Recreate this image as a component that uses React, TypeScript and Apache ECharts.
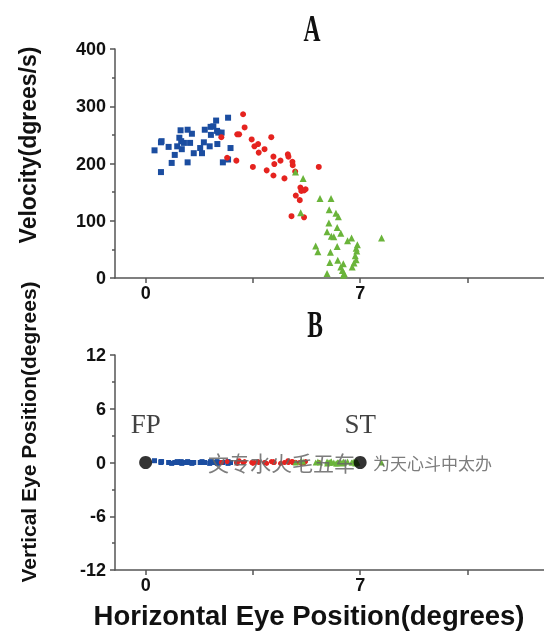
import React, { useEffect, useRef } from "react";
import * as echarts from "echarts";

// Panel A: horizontal eye position (deg) vs velocity (deg/s)
const blueX = [0.29, 0.5, 0.5, 0.52, 0.75, 0.85, 0.95, 1.03, 1.1, 1.14, 1.16, 1.18, 1.25, 1.37, 1.37, 1.45, 1.51, 1.57, 1.78, 1.84, 1.9, 1.93, 2.09, 2.13, 2.12, 2.21, 2.3, 2.33, 2.37, 2.34, 2.48, 2.52, 2.69, 2.77, 2.69];
const blueVel = [223, 185, 237, 239, 229, 201, 215, 230, 245, 258, 239, 225, 236, 259, 202, 236, 252, 218, 227, 218, 237, 259, 230, 250, 264, 265, 275, 257, 254, 234, 254, 202, 280, 227, 207];

const redX = [2.47, 2.66, 2.96, 2.99, 3.05, 3.18, 3.23, 3.46, 3.5, 3.55, 3.67, 3.69, 3.88, 3.95, 4.1, 4.17, 4.2, 4.17, 4.4, 4.53, 4.64, 4.66, 4.79, 4.8, 5.05, 5.08, 5.17, 5.22, 4.9, 5.03, 4.76, 5.17, 5.65, 4.88];
const redVel = [246, 210, 205, 251, 251, 286, 263, 242, 194, 230, 234, 219, 225, 188, 246, 212, 199, 179, 205, 174, 216, 212, 203, 197, 158, 152, 153, 155, 144, 136, 108, 106, 194, 186];

const greenX = [4.89, 5.14, 5.69, 6.05, 5.99, 6.21, 6.29, 5.06, 5.98, 6.25, 5.92, 6.06, 6.14, 6.37, 6.59, 6.72, 7.7, 6.25, 5.55, 5.62, 6.03, 6.91, 6.87, 6.89, 6.84, 6.87, 6.8, 6.74, 6.27, 6.45, 6.01, 6.37, 6.42, 6.48, 5.92, 6.45];
const greenVel = [185, 174, 139, 139, 119, 113, 107, 114, 96, 88, 81, 73, 72, 78, 65, 70, 70, 55, 56, 46, 45, 58, 52, 47, 39, 32, 26, 19, 31, 25, 27, 19, 13, 8, 8, 5];

// Panel B: vertical eye position (deg)
const blueVert = [0.2, 0.1, 0, 0.1, 0, -0.1, 0, 0.1, 0, 0, 0.1, -0.1, 0, 0, 0.1, 0, -0.1, 0, 0, 0.1, 0, 0, -0.1, 0, 0.1, 0, 0, 0.1, 0, -0.1, 0, 0, 0.1, 0, -0.1];
const redVert = [0, 0.1, 0, -0.1, 0.2, 0, 0.1, 0, -0.1, 0, 0.1, 0, 0, -0.1, 0.1, 0, 0, 0.1, -0.1, 0, 0.2, 0, 0, 0.1, 0, -0.1, 0, 0.1, 0, 0, 0.1, 0, 0, 0];
const greenVert = [0, 0.1, 0, 0.1, 0, -0.1, 0, 0.1, 0, 0, -0.1, 0.1, 0, 0, 0.1, 0, 0, -0.1, 0, 0.1, 0, 0, 0.1, 0, -0.1, 0, 0.1, 0, 0, 0.1, 0, 0, -0.1, 0, 0.1, 0];

const targetX = [0, 7];
const targetY = [0, 0];
const targetLabels = ["FP", "ST"];

const velTicks = [0, 100, 200, 300, 400];
const vertTicks = [-12, -6, 0, 6, 12];
const xTickValues = [0, 3.5, 7, 10.5];
const xLabelValues = [0, 7];

const zip = (xs: number[], ys: number[]) => xs.map((x, i) => [x, ys[i]]);

const BLUE = "#1b4da0";
const RED = "#e5231f";
const GREEN = "#6ab43a";

export default function App() {
  const ref = useRef<HTMLDivElement>(null);
  useEffect(() => {
    const chart = echarts.init(ref.current!, null, { renderer: "svg" });
    const lineStyle = { color: "#555", width: 1.5 };
    const labelStyle = {
      fontSize: 18,
      fontWeight: "bold" as const,
      color: "#111",
      fontFamily: "Liberation Sans",
    };
    const xAxis = (gridIndex: number) => ({
      type: "value",
      gridIndex,
      min: -1,
      max: 13,
      axisLine: { show: true, onZero: false, lineStyle },
      axisTick: { show: true, customValues: xTickValues, length: 5, lineStyle },
      axisLabel: { ...labelStyle, customValues: xLabelValues, margin: 6 },
      splitLine: { show: false },
    });
    const yAxis = (gridIndex: number, ticks: number[]) => ({
      type: "value",
      gridIndex,
      min: ticks[0],
      max: ticks[ticks.length - 1],
      interval: ticks[1] - ticks[0],
      axisLine: { show: true, onZero: false, lineStyle },
      axisTick: { show: true, length: 5, lineStyle },
      minorTick: { show: true, splitNumber: 2, length: 3, lineStyle },
      axisLabel: { ...labelStyle, margin: 9 },
      splitLine: { show: false },
      minorSplitLine: { show: false },
    });
    const scatter = (name: string, data: number[][], idx: number, symbol: string, size: number, color: string) => ({
      type: "scatter",
      name,
      xAxisIndex: idx,
      yAxisIndex: idx,
      data,
      symbol,
      symbolSize: size,
      itemStyle: { color, opacity: 1 },
    });
    const sans = '"Liberation Sans", Arial, sans-serif';
    chart.setOption({
      animation: false,
      grid: [
        { left: 115, top: 49, width: 433, height: 229 },
        { left: 115, top: 355, width: 433, height: 215 },
      ],
      xAxis: [xAxis(0), xAxis(1)],
      yAxis: [yAxis(0, velTicks), yAxis(1, vertTicks)],
      series: [
        scatter("blueA", zip(blueX, blueVel), 0, "rect", 6, BLUE),
        scatter("redA", zip(redX, redVel), 0, "circle", 6, RED),
        scatter("greenA", zip(greenX, greenVel), 0, "triangle", 7, GREEN),
        scatter("blueB", zip(blueX, blueVert), 1, "rect", 5, BLUE),
        scatter("redB", zip(redX, redVert), 1, "circle", 5, RED),
        scatter("greenB", zip(greenX, greenVert), 1, "triangle", 6, GREEN),
        {
          type: "scatter",
          name: "targets",
          xAxisIndex: 1,
          yAxisIndex: 1,
          data: zip(targetX, targetY).map((d, i) => ({ value: d, name: targetLabels[i] })),
          symbol: "circle",
          symbolSize: 13,
          itemStyle: { color: "#000" },
          z: 5,
          label: {
            show: true,
            position: "top",
            distance: 19,
            formatter: "{b}",
            fontFamily: '"Liberation Serif", serif',
            fontSize: 27,
            color: "#111",
          },
        },
      ],
      graphic: [
        {
          type: "text",
          x: 312,
          y: 28,
          scaleX: 0.62,
          style: { text: "A", font: 'bold 38px "Liberation Serif"', textAlign: "center", textVerticalAlign: "middle", fill: "#111" },
        },
        {
          type: "text",
          x: 315,
          y: 324,
          scaleX: 0.62,
          style: { text: "B", font: 'bold 38px "Liberation Serif"', textAlign: "center", textVerticalAlign: "middle", fill: "#111" },
        },
        {
          type: "text",
          x: 28,
          y: 145,
          rotation: Math.PI / 2,
          style: { text: "Velocity(dgrees/s)", font: `bold 23px ${sans}`, textAlign: "center", textVerticalAlign: "middle", fill: "#111" },
        },
        {
          type: "text",
          x: 28,
          y: 432,
          rotation: Math.PI / 2,
          style: { text: "Vertical Eye Position(degrees)", font: `bold 21px ${sans}`, textAlign: "center", textVerticalAlign: "middle", fill: "#111" },
        },
        {
          type: "text",
          x: 309,
          y: 615,
          style: { text: "Horizontal Eye Position(degrees)", font: `bold 27.5px ${sans}`, textAlign: "center", textVerticalAlign: "middle", fill: "#111" },
        },
        {
          type: "text",
          x: 208,
          y: 462,
          z: 100,
          style: { text: "文专水火毛五车", font: '21px "Noto Sans CJK SC"', textAlign: "left", textVerticalAlign: "middle", fill: "#666", opacity: 0.85 },
        },
        {
          type: "text",
          x: 373,
          y: 462,
          z: 100,
          style: { text: "为天心斗中太办", font: '17px "Noto Sans CJK SC"', textAlign: "left", textVerticalAlign: "middle", fill: "#666", opacity: 0.85 },
        },
      ],
    });
    return () => chart.dispose();
  }, []);
  return <div ref={ref} style={{ position: "fixed", left: 0, top: 0, width: 544, height: 640 }} />;
}
